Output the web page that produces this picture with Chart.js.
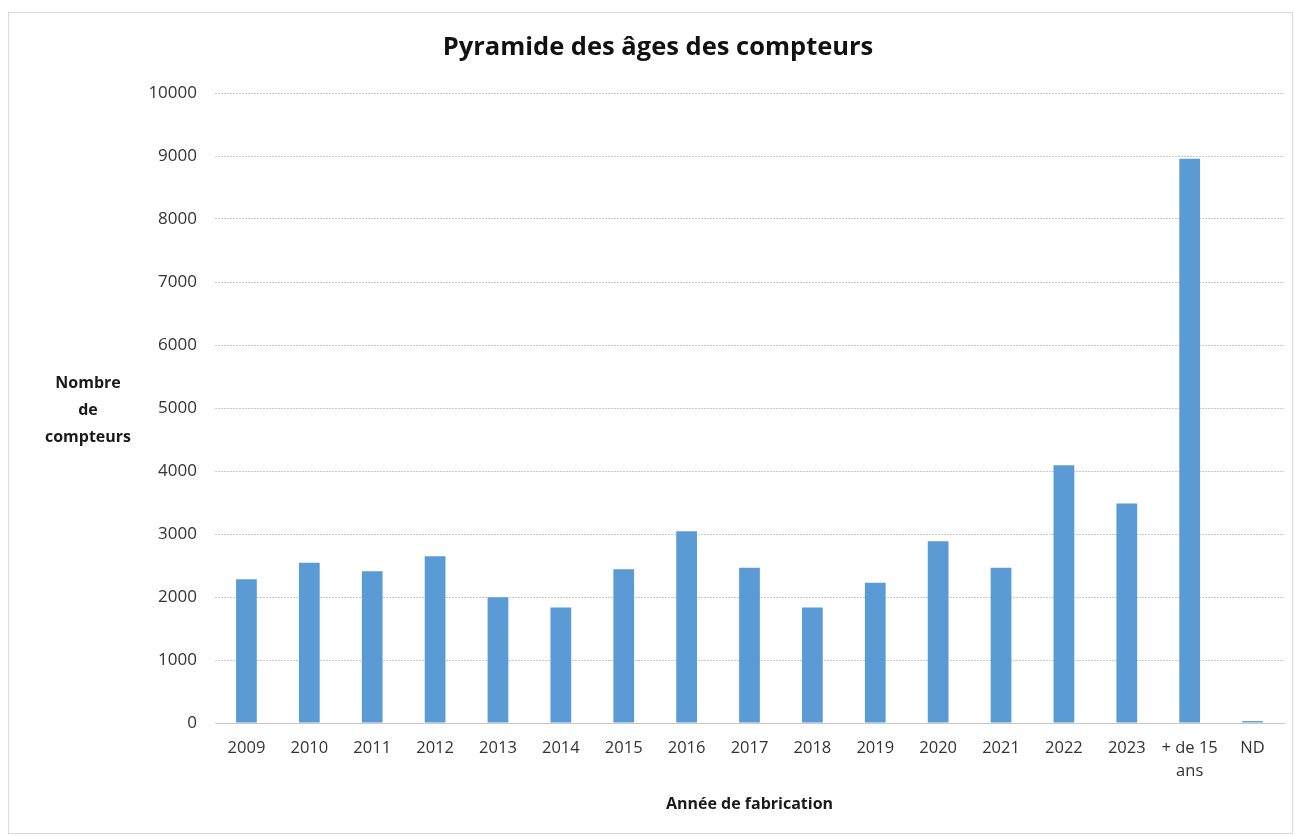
<!DOCTYPE html>
<html>
<head>
<meta charset="utf-8">
<script src="https://cdn.jsdelivr.net/npm/chart.js@4/dist/chart.umd.min.js"></script>
<style>
  html, body { margin: 0; padding: 0; background: #fff; }
  #frame { position: absolute; left: 8px; top: 12px; width: 1285px; height: 822px; border: 1px solid #d9d9d9; box-sizing: border-box; }
  #wrap { position: absolute; left: 0; top: 0; width: 1295px; height: 836px; }
</style>
</head>
<body>
<div id="frame"></div>
<div id="wrap"><canvas id="c" width="1295" height="836"></canvas></div>
<script>
const categories = ['2009','2010','2011','2012','2013','2014','2015','2016','2017','2018','2019','2020','2021','2022','2023',['+ de 15','ans'],'ND'];
const compteurs = [2280, 2545, 2410, 2645, 1995, 1835, 2440, 3045, 2465, 1835, 2225, 2885, 2465, 4090, 3485, 8955, 30];
const yTicks = [0,1000,2000,3000,4000,5000,6000,7000,8000,9000,10000];
const chartTitle = 'Pyramide des âges des compteurs';
const yTitle = ['Nombre', 'de', 'compteurs'];
const xTitle = 'Année de fabrication';

const FONT = '"Open Sans", "Liberation Sans", sans-serif';

const textPlugin = {
  id: 'texts',
  afterDraw(chart) {
    const ctx = chart.ctx;
    ctx.save();
    ctx.textAlign = 'center';
    ctx.textBaseline = 'middle';
    ctx.fillStyle = '#111';
    ctx.font = 'bold 25.5px ' + FONT;
    ctx.fillText(chartTitle, 658, 48);
    ctx.font = 'bold 16px ' + FONT;
    ctx.fillStyle = '#1a1a1a';
    const cx = 88, y0 = 383, lh = 27;
    yTitle.forEach((t, i) => ctx.fillText(t, cx, y0 + i * lh));
    ctx.restore();
  }
};

new Chart(document.getElementById('c'), {
  type: 'bar',
  data: {
    labels: categories,
    datasets: [{
      data: compteurs,
      backgroundColor: '#5B9BD5',
      borderWidth: 0,
      barPercentage: 0.33,
      categoryPercentage: 1.0
    }]
  },
  options: {
    responsive: false,
    animation: false,
    devicePixelRatio: 1,
    layout: { padding: { left: 0, right: 11, top: 93, bottom: 0 } },
    plugins: {
      legend: { display: false },
      tooltip: { enabled: false },
      title: { display: false }
    },
    scales: {
      x: {
        grid: { display: false, drawTicks: false },
        border: { display: true, color: '#c8c8c8', dash: [2, 1] },
        ticks: {
          color: '#333',
          font: { family: FONT, size: 16.5, lineHeight: 1.4 },
          padding: 14,
          maxRotation: 0,
          autoSkip: false
        },
        title: {
          display: true,
          text: xTitle,
          color: '#1a1a1a',
          font: { family: FONT, size: 16, weight: 'bold', lineHeight: 1.2 },
          padding: { top: 0, bottom: 22.4 }
        },
        afterFit(s) { s.height = 113; }
      },
      y: {
        min: 0,
        max: 10000,
        afterBuildTicks(s) { s.ticks = yTicks.map(v => ({ value: v })); },
        grid: { color: '#c8c8c8', drawTicks: false, lineWidth: 1 },
        border: { display: false, dash: [2, 1] },
        ticks: {
          color: '#333',
          font: { family: FONT, size: 17 },
          padding: 18,
          callback: v => String(v)
        },
        afterFit(s) { s.width = 215; }
      }
    }
  },
  plugins: [textPlugin]
});
</script>
</body>
</html>
